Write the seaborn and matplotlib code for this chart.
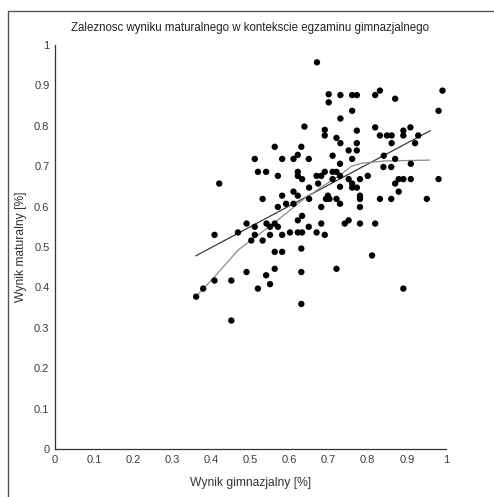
import matplotlib
matplotlib.use("Agg")
import matplotlib.pyplot as plt
from matplotlib.lines import Line2D
import numpy as np
import pandas as pd
import seaborn as sns

# Exam results: lower-secondary (gimnazjum) score vs. matura score
gimnazjum = [
    0.670, 0.991, 0.700, 0.700, 0.730, 0.760, 0.772, 0.819, 0.831, 0.870,
    0.981, 0.760, 0.730, 0.690, 0.690, 0.720, 0.730, 0.772, 0.772, 0.819,
    0.831, 0.849, 0.861, 0.861, 0.891, 0.891, 0.909, 0.929, 0.921, 0.638,
    0.562, 0.630, 0.511, 0.581, 0.610, 0.621, 0.649, 0.519, 0.540, 0.570,
    0.621, 0.621, 0.632, 0.669, 0.420, 0.650, 0.610, 0.581, 0.621, 0.531,
    0.650, 0.591, 0.610, 0.570, 0.632, 0.621, 0.490, 0.511, 0.541, 0.562,
    0.550, 0.570, 0.649, 0.408, 0.468, 0.511, 0.550, 0.581, 0.601, 0.621,
    0.632, 0.669, 0.502, 0.531, 0.562, 0.581, 0.630, 0.490, 0.540, 0.562,
    0.630, 0.550, 0.519, 0.408, 0.451, 0.379, 0.361, 0.451, 0.630, 0.811,
    0.720, 0.891, 0.751, 0.772, 0.710, 0.760, 0.729, 0.841, 0.870, 0.910,
    0.840, 0.860, 0.690, 0.710, 0.720, 0.681, 0.710, 0.729, 0.751, 0.780,
    0.800, 0.879, 0.891, 0.910, 0.981, 0.870, 0.673, 0.760, 0.760, 0.772,
    0.729, 0.879, 0.698, 0.693, 0.702, 0.720, 0.729, 0.780, 0.780, 0.831,
    0.860, 0.951, 0.681, 0.780, 0.751, 0.741, 0.681, 0.780, 0.819, 0.690,
]
matura = [
    0.957, 0.887, 0.878, 0.858, 0.876, 0.876, 0.876, 0.876, 0.887, 0.867,
    0.837, 0.837, 0.818, 0.790, 0.776, 0.770, 0.757, 0.788, 0.757, 0.796,
    0.776, 0.776, 0.776, 0.757, 0.788, 0.776, 0.796, 0.776, 0.757, 0.798,
    0.748, 0.748, 0.718, 0.718, 0.718, 0.728, 0.718, 0.686, 0.686, 0.676,
    0.686, 0.676, 0.668, 0.676, 0.657, 0.647, 0.637, 0.627, 0.627, 0.619,
    0.619, 0.607, 0.607, 0.599, 0.577, 0.566, 0.558, 0.550, 0.558, 0.558,
    0.550, 0.550, 0.550, 0.530, 0.536, 0.530, 0.530, 0.530, 0.536, 0.536,
    0.536, 0.536, 0.516, 0.516, 0.488, 0.488, 0.496, 0.438, 0.430, 0.446,
    0.438, 0.408, 0.397, 0.417, 0.417, 0.397, 0.377, 0.318, 0.359, 0.479,
    0.446, 0.397, 0.739, 0.739, 0.726, 0.718, 0.706, 0.726, 0.718, 0.706,
    0.698, 0.698, 0.686, 0.686, 0.686, 0.676, 0.668, 0.676, 0.668, 0.668,
    0.676, 0.668, 0.668, 0.668, 0.668, 0.657, 0.657, 0.657, 0.647, 0.647,
    0.649, 0.637, 0.627, 0.619, 0.619, 0.619, 0.607, 0.627, 0.619, 0.619,
    0.619, 0.619, 0.599, 0.599, 0.566, 0.558, 0.558, 0.558, 0.558, 0.530,
]

# Linear trend
linear_x = [0.36, 0.96]
linear_y = [0.478, 0.788]

# Smoothed trend
smooth_x = [0.36, 0.405, 0.469, 0.502, 0.553, 0.596, 0.647, 0.66, 0.673,
            0.707, 0.732, 0.758, 0.783, 0.843, 0.958]
smooth_y = [0.377, 0.423, 0.493, 0.517, 0.554, 0.587, 0.627, 0.633, 0.643,
            0.664, 0.680, 0.700, 0.707, 0.713, 0.715]

ticks = [0, 0.1, 0.2, 0.3, 0.4, 0.5, 0.6, 0.7, 0.8, 0.9, 1]
tick_labels = ["0", "0.1", "0.2", "0.3", "0.4", "0.5", "0.6", "0.7", "0.8", "0.9", "1"]

sns.set_style("white")
plt.rcParams["font.family"] = ["Liberation Sans", "DejaVu Sans"]

df = pd.DataFrame({"gim": gimnazjum, "mat": matura})
lin = pd.DataFrame({"x": linear_x, "y": linear_y})
smo = pd.DataFrame({"x": smooth_x, "y": smooth_y})

fig = plt.figure(figsize=(4.94, 4.97), dpi=100)
ax = fig.add_axes([0.1113, 0.0966, 0.7915, 0.8129])

sns.scatterplot(data=df, x="gim", y="mat", ax=ax, color="black",
                s=21, edgecolor="none", linewidth=0, zorder=3)
sns.lineplot(data=lin, x="x", y="y", ax=ax, color="#3a3a3a", linewidth=0.9,
             sort=False, estimator=None, zorder=2)
sns.lineplot(data=smo, x="x", y="y", ax=ax, color="#8c8c8c", linewidth=0.9,
             sort=False, estimator=None, zorder=2)

ax.set_xlim(0, 1)
ax.set_ylim(0, 1)
ax.set_xticks(ticks)
ax.set_xticklabels(tick_labels)
ax.set_yticks(ticks)
ax.set_yticklabels(tick_labels)

for side in ("top", "right"):
    ax.spines[side].set_visible(False)
for side in ("left", "bottom"):
    ax.spines[side].set_color("#333333")
    ax.spines[side].set_linewidth(0.9)

ax.tick_params(axis="both", direction="in", length=4, width=0.8,
               color="#333333", labelcolor="#3c3c3c", labelsize=8, pad=4)

ax.set_title("Zaleznosc wyniku maturalnego w kontekscie egzaminu gimnazjalnego",
             fontsize=8.3, color="#222222", pad=10)
ax.set_xlabel("Wynik gimnazjalny [%]", fontsize=8.7, color="#333333", labelpad=9)
ax.set_ylabel("Wynik maturalny [%]", fontsize=8.7, color="#333333", labelpad=5)

# Frame around the figure (left and top edges)
fx = 7.5 / 494
fy = 1 - 10.5 / 497
fig.add_artist(Line2D([fx, fx], [0, fy], transform=fig.transFigure,
                      color="#555555", linewidth=1))
fig.add_artist(Line2D([fx, 1], [fy, fy], transform=fig.transFigure,
                      color="#555555", linewidth=1))

fig.savefig("out.png", dpi=100)
